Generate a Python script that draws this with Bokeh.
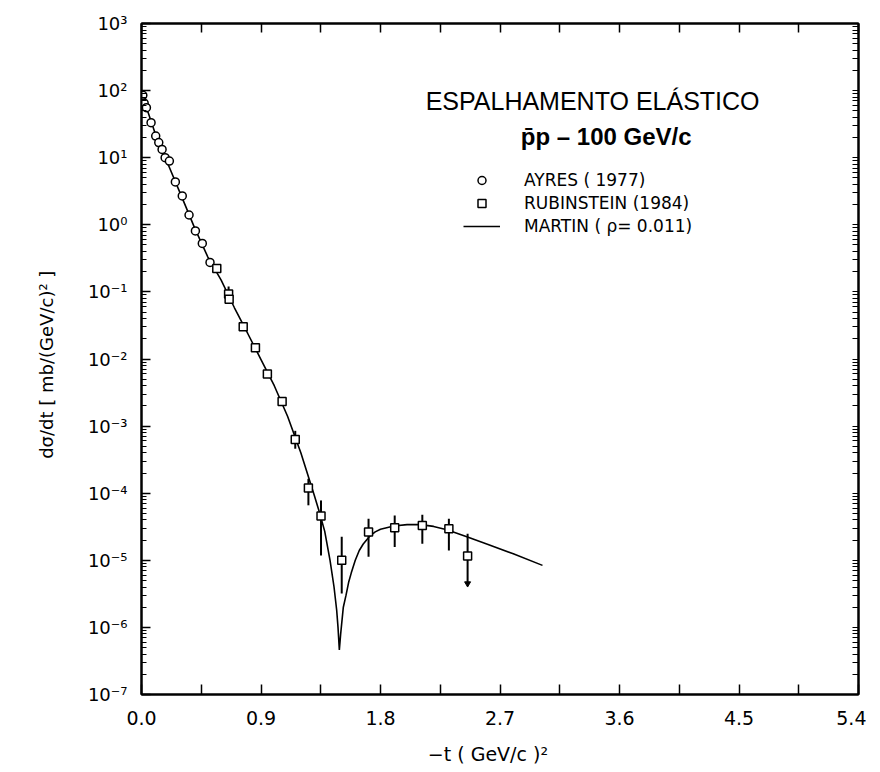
import math
from bokeh.plotting import figure
from bokeh.models import (FixedTicker, LinearAxis, LogAxis, Label, Legend, LegendItem,
                          Range1d)
from bokeh.embed import file_html
from bokeh.resources import INLINE

# ---------------- data ----------------
ayres_t = [0.01, 0.02, 0.037, 0.072, 0.107, 0.13, 0.155, 0.178, 0.21, 0.255,
           0.307, 0.358, 0.406, 0.458, 0.516]
ayres_v = [85, 65, 55.7, 33.3, 21, 16.8, 13.3, 10.0, 8.9, 4.35,
           2.69, 1.40, 0.81, 0.527, 0.275]

rub_t = [0.567, 0.656, 0.66, 0.766, 0.858, 0.948, 1.059, 1.158, 1.257, 1.352,
         1.508, 1.71, 1.907, 2.115, 2.315, 2.456]
rub_v = [0.224, 0.093, 0.078, 0.0303, 0.0147, 0.00598, 0.00232, 6.3e-4, 1.2e-4, 4.56e-5,
         1.0e-5, 2.64e-5, 3.05e-5, 3.3e-5, 2.95e-5, 1.16e-5]
rub_lo = [0.224, 0.075, 0.078, 0.0303, 0.0147, 0.00598, 0.00232, 4.6e-4, 6.6e-5, 1.18e-5,
          3.2e-6, 1.13e-5, 1.58e-5, 1.77e-5, 1.40e-5, 4.5e-6]
rub_hi = [0.224, 0.12, 0.078, 0.0303, 0.0147, 0.00598, 0.00232, 8.5e-4, 1.64e-4, 7.8e-5,
          2.24e-5, 4.16e-5, 4.66e-5, 4.77e-5, 4.16e-5, 2.49e-5]

martin_t = [0.0, 0.05, 0.1, 0.15, 0.2, 0.3, 0.4, 0.5, 0.6, 0.7, 0.8, 0.9, 1.0, 1.1,
            1.2, 1.3, 1.34, 1.38, 1.42, 1.45, 1.47, 1.48, 1.49, 1.50, 1.52, 1.54,
            1.56, 1.58, 1.61, 1.64, 1.67, 1.72, 1.76, 1.8,
            1.9, 2.0, 2.1, 2.2, 2.3, 2.45, 2.6, 2.8, 3.02]
martin_v = [85, 47, 24, 14, 8.0, 2.7, 0.90, 0.33, 0.15, 0.058, 0.024, 0.0098, 0.0040, 0.0014,
            4.0e-4, 9.5e-5, 5.2e-5, 2.7e-5, 1.0e-5, 4.0e-6, 1.8e-6, 1.0e-6, 4.6e-7, 8.0e-7, 2.0e-6, 3.0e-6,
            4.7e-6, 6.5e-6, 1.0e-5, 1.4e-5, 1.75e-5, 2.3e-5, 2.65e-5, 2.9e-5,
            3.25e-5, 3.4e-5, 3.4e-5, 3.2e-5, 2.85e-5, 2.25e-5, 1.75e-5, 1.25e-5, 8.4e-6]

x_ticks = [0.0, 0.9, 1.8, 2.7, 3.6, 4.5, 5.4]
x_tick_labels = ["0.0", "0.9", "1.8", "2.7", "3.6", "4.5", "5.4"]
x_minor = [0.45, 1.35, 2.25, 3.15, 4.05, 4.95]
y_exponents = [-7, -6, -5, -4, -3, -2, -1, 0, 1, 2, 3]
y_tick_labels = ["10⁻⁷", "10⁻⁶", "10⁻⁵", "10⁻⁴", "10⁻³", "10⁻²", "10⁻¹",
                 "10⁰", "10¹", "10²", "10³"]

legend_labels = ["AYRES ( 1977)", "RUBINSTEIN (1984)", "MARTIN ( ρ= 0.011)"]
title_text = "ESPALHAMENTO ELÁSTICO"
subtitle_text = "p\u0304p \u2013 100 GeV/c"
x_label = "\u2212t   (  GeV/c  )\u00b2"
y_label = "dσ/dt   [ mb/(GeV/c)\u00b2 ]"

FONT = "Liberation Sans"
WIDE = "DejaVu Sans"

# ---------------- figure ----------------
p = figure(frame_width=717, frame_height=671,
           x_range=Range1d(0, 5.4), y_range=Range1d(1e-7, 1e3),
           y_axis_type="log", output_backend="svg", toolbar_location=None,
           min_border_left=141, min_border_right=8, min_border_top=23,
           min_border_bottom=68, background_fill_color="white",
           border_fill_color="white")
p.grid.visible = False
p.outline_line_color = "black"
p.outline_line_width = 2

y_major = [10.0 ** e for e in y_exponents]
y_minor_all = [m * 10.0 ** e for e in y_exponents[:-1] for m in range(2, 10)]

# bottom axis
xa = p.xaxis[0]
xa.ticker = FixedTicker(ticks=x_ticks, minor_ticks=x_minor)
xa.major_label_overrides = {t: l for t, l in zip(x_ticks, x_tick_labels)}
xa.major_tick_in = 10
xa.major_tick_out = 0
xa.minor_tick_in = 10
xa.minor_tick_out = 0
xa.axis_line_width = 2
xa.major_tick_line_width = 1.5
xa.minor_tick_line_width = 1.5
xa.major_label_text_font = WIDE
xa.major_label_text_font_size = "19px"
xa.major_label_text_color = "black"
xa.major_label_standoff = 16
xa.axis_label = x_label
xa.axis_label_text_font = WIDE
xa.axis_label_text_font_style = "normal"
xa.axis_label_text_font_size = "19px"
xa.axis_label_text_color = "black"
xa.axis_label_standoff = 15

# left axis
ya = p.yaxis[0]
ya.ticker = FixedTicker(ticks=y_major, minor_ticks=y_minor_all)
ya.major_label_overrides = {t: l for t, l in zip(y_major, y_tick_labels)}
ya.major_tick_in = 9
ya.major_tick_out = 0
ya.minor_tick_in = 5
ya.minor_tick_out = 0
ya.axis_line_width = 2
ya.major_tick_line_width = 1.5
ya.minor_tick_line_width = 1
ya.major_label_text_font = WIDE
ya.major_label_text_font_size = "18px"
ya.major_label_text_color = "black"
ya.major_label_standoff = 14
ya.axis_label = y_label
ya.axis_label_text_font = WIDE
ya.axis_label_text_font_style = "normal"
ya.axis_label_text_font_size = "18px"
ya.axis_label_text_color = "black"
ya.axis_label_standoff = 28

# top axis (ticks only)
top = LinearAxis(ticker=FixedTicker(ticks=[], minor_ticks=x_ticks + x_minor),
                 minor_tick_in=9, minor_tick_out=0, minor_tick_line_width=1.5,
                 axis_line_width=2, major_label_standoff=0)
p.add_layout(top, "above")
# right axis (ticks only)
right = LogAxis(ticker=FixedTicker(ticks=[], minor_ticks=y_major + y_minor_all),
                minor_tick_in=6, minor_tick_out=0, minor_tick_line_width=1.2,
                axis_line_width=2, major_label_standoff=0)
p.add_layout(right, "right")

# ---------------- glyphs ----------------
p.segment(x0=rub_t, y0=rub_lo, x1=rub_t, y1=rub_hi, line_color="black", line_width=2)
p.scatter(x=rub_t[-1:], y=rub_lo[-1:], marker="inverted_triangle", size=6,
          fill_color="black", line_color="black")
r_ma = p.line(martin_t, martin_v, line_color="black", line_width=1.6)
r_ay = p.scatter(ayres_t, ayres_v, marker="circle", size=8, fill_color="white",
                 line_color="black", line_width=1.5)
r_ru = p.scatter(rub_t, rub_v, marker="square", size=8, fill_color="white",
                 line_color="black", line_width=1.5)

legend = Legend(items=[LegendItem(label=legend_labels[0], renderers=[r_ay]),
                       LegendItem(label=legend_labels[1], renderers=[r_ru]),
                       LegendItem(label=legend_labels[2], renderers=[r_ma])],
                location=(322, 458), orientation="vertical",
                border_line_color=None, background_fill_alpha=0,
                padding=0, margin=0, spacing=3, glyph_width=37, glyph_height=20,
                label_height=20, label_standoff=24,
                label_text_font=WIDE, label_text_font_size="17px",
                label_text_color="black")
p.add_layout(legend)

# title texts
p.add_layout(Label(x=2.14, y=69.0, text=title_text, text_font=FONT,
                   text_font_size="25px", text_baseline="middle", text_align="left",
                   text_color="black"))
p.add_layout(Label(x=3.50, y=20.8, text=subtitle_text, text_font=FONT,
                   text_font_size="24px", text_font_style="bold",
                   text_baseline="middle", text_align="center", text_color="black"))

open("out.html", "w").write(file_html(p, INLINE))
